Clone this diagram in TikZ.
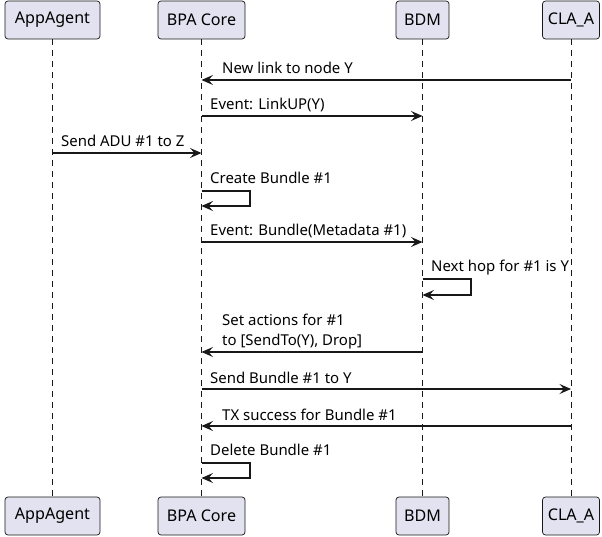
\documentclass[tikz,border=0pt]{standalone}
\usepackage{fontspec}
\setmainfont{Noto Sans}
\usetikzlibrary{arrows.meta}
\definecolor{boxfill}{HTML}{E2E2F0}
\definecolor{ink}{HTML}{181818}
\begin{document}
\begin{tikzpicture}[x=1pt,y=-1pt,
  part/.style={draw=ink, line width=0.7pt, fill=boxfill, rounded corners=3pt,
    minimum height=38pt, inner sep=0pt, font=\fontsize{16.1}{20}\selectfont, text=black},
  lifeline/.style={draw=ink, line width=0.7pt, dash pattern=on 6pt off 5pt},
  msg/.style={draw=ink, line width=1.1pt, -{Stealth[length=11.5pt,width=10pt,inset=4.5pt]}},
  lbl/.style={anchor=base west, inner sep=0pt, font=\fontsize{14.95}{20}\selectfont, text=black}]
\useasboundingbox (0,0) rectangle (602,537);

% participants
\node[part, minimum width=95pt] (appT) at (52.5,20) {AppAgent};
\node[part, minimum width=87pt] (bpaT) at (201.5,20) {BPA Core};
\node[part, minimum width=53pt] (bdmT) at (422.5,20) {BDM};
\node[part, minimum width=57pt] (claT) at (571,20) {CLA\_A};
\node[part, minimum width=95pt] (appB) at (52.5,516) {AppAgent};
\node[part, minimum width=87pt] (bpaB) at (201.5,516) {BPA Core};
\node[part, minimum width=53pt] (bdmB) at (422.5,516) {BDM};
\node[part, minimum width=57pt] (claB) at (571,516) {CLA\_A};

% lifelines
\draw[lifeline] (appT) -- (appB);
\draw[lifeline] (bpaT) -- (bpaB);
\draw[lifeline] (bdmT) -- (bdmB);
\draw[lifeline] (claT) -- (claB);

% message rows
\coordinate (y1) at (0,80);
\coordinate (y2) at (0,116);
\coordinate (y3) at (0,153);
\coordinate (y4a) at (0,191);
\coordinate (y4b) at (0,206);
\coordinate (y5) at (0,242);
\coordinate (y6a) at (0,279);
\coordinate (y6b) at (0,295);
\coordinate (y7) at (0,352);
\coordinate (y8) at (0,389);
\coordinate (y9) at (0,426);
\coordinate (y10a) at (0,463);
\coordinate (y10b) at (0,478);

\draw[msg] (claT |- y1) -- (bpaT |- y1);
\node[lbl] (t1) at (222,74) {New link to node Y};

\draw[msg] (bpaT |- y2) -- (bdmT |- y2);
\node[lbl] (t2) at (210,110) {Event: LinkUP(Y)};

\draw[msg] (appT |- y3) -- (bpaT |- y3);
\node[lbl] (t3) at (61,147) {Send ADU \#1 to Z};

\draw[msg] (bpaT |- y4a) -- ++(48.5,0) |- (bpaT |- y4b);
\node[lbl] (t4) at (210,183.5) {Create Bundle \#1};

\draw[msg] (bpaT |- y5) -- (bdmT |- y5);
\node[lbl] (t5) at (210,236) {Event: Bundle(Metadata \#1)};

\draw[msg] (bdmT |- y6a) -- ++(48.5,0) |- (bdmT |- y6b);
\node[lbl] (t6) at (431,272) {Next hop for \#1 is Y};

\draw[msg] (bdmT |- y7) -- (bpaT |- y7);
\node[lbl] (t7a) at (222,325.5) {Set actions for \#1};
\node[lbl] (t7b) at (222,345.5) {to [SendTo(Y), Drop]};

\draw[msg] (bpaT |- y8) -- (claT |- y8);
\node[lbl] (t8) at (210,383) {Send Bundle \#1 to Y};

\draw[msg] (claT |- y9) -- (bpaT |- y9);
\node[lbl] (t9) at (222,420) {TX success for Bundle \#1};

\draw[msg] (bpaT |- y10a) -- ++(48.5,0) |- (bpaT |- y10b);
\node[lbl] (t10) at (210,455) {Delete Bundle \#1};
\end{tikzpicture}
\end{document}
